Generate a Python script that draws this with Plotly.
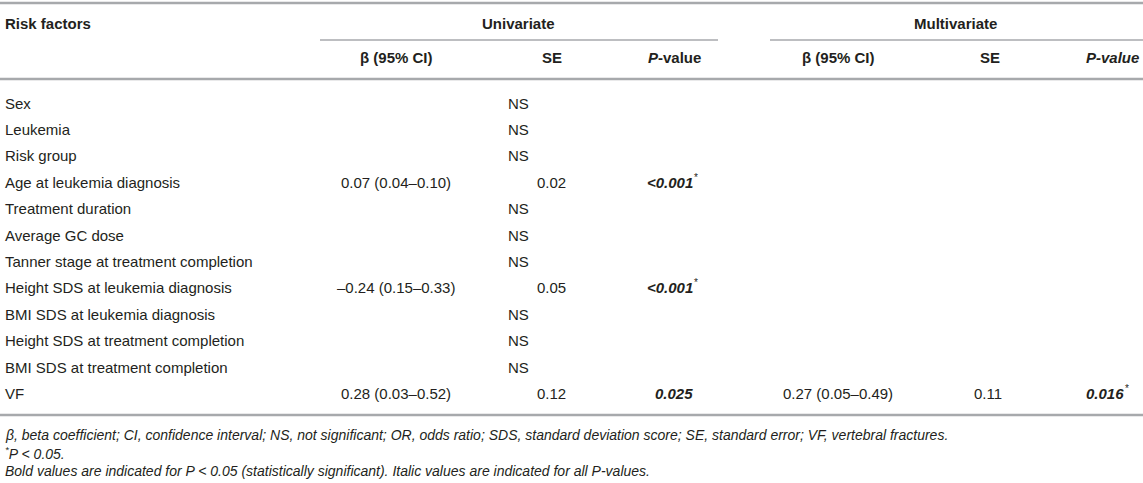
import plotly.graph_objects as go

# table content
risk_factors = ["Sex", "Leukemia", "Risk group", "Age at leukemia diagnosis", "Treatment duration",
                "Average GC dose", "Tanner stage at treatment completion",
                "Height SDS at leukemia diagnosis", "BMI SDS at leukemia diagnosis",
                "Height SDS at treatment completion", "BMI SDS at treatment completion", "VF"]
uni_beta = ["", "", "", "0.07 (0.04–0.10)", "", "", "", "–0.24 (0.15–0.33)", "", "", "", "0.28 (0.03–0.52)"]
uni_se = ["NS", "NS", "NS", "0.02", "NS", "NS", "NS", "0.05", "NS", "NS", "NS", "0.12"]
uni_p = ["", "", "", "<0.001", "", "", "", "<0.001", "", "", "", "0.025"]
uni_star = [False, False, False, True, False, False, False, True, False, False, False, False]
multi_beta = [""] * 11 + ["0.27 (0.05–0.49)"]
multi_se = [""] * 11 + ["0.11"]
multi_p = [""] * 11 + ["0.016"]
multi_star = [False] * 11 + [True]

footnotes = [
    "β, beta coefficient; CI, confidence interval; NS, not significant; OR, odds ratio; SDS, standard deviation score; "
    "SE, standard error; VF, vertebral fractures.",
    "<sup>*</sup>P &lt; 0.05.",
    "Bold values are indicated for P &lt; 0.05 (statistically significant). Italic values are indicated for all P-values.",
]

W, H = 1143, 483
FONT = "Liberation Sans, Arial, Helvetica, sans-serif"
TXT = "#231f20"
RULE = "#a7a9ac"

fig = go.Figure()


def cell(x, y, text, anchor="left", size=15, color=TXT):
    fig.add_annotation(x=x, y=y, text=text, showarrow=False, xanchor=anchor, yanchor="middle",
                       font=dict(family=FONT, size=size, color=color), xref="x", yref="y")


def rule(x0, x1, y, width=2):
    fig.add_shape(type="line", x0=x0, x1=x1, y0=y, y1=y, line=dict(color=RULE, width=width),
                  xref="x", yref="y")


def pvalue(x, y, text, star):
    if not text:
        return
    cell(x, y, "<b><i>" + text.replace("<", "&lt;") + "</i></b>", anchor="right")
    if star:
        cell(x - 3, y - 5, "*", anchor="left", size=10)


# header
rule(0, W, 3, 2.5)
cell(3, 23, "<b>Risk factors</b>")
cell(518, 23, "<b>Univariate</b>", anchor="center")
cell(955, 23, "<b>Multivariate</b>", anchor="center")
rule(320, 718, 40, 1.5)
rule(770, W, 40, 1.5)
cell(396, 57, "<b>β (95% CI)</b>", anchor="center")
cell(552, 57, "<b>SE</b>", anchor="center")
cell(703, 57, "<b><i>P</i>-value</b>", anchor="right")
cell(838, 57, "<b>β (95% CI)</b>", anchor="center")
cell(990, 57, "<b>SE</b>", anchor="center")
cell(1141, 57, "<b><i>P-value</i></b>", anchor="right")
rule(0, W, 79, 2.5)

# body rows
row0, step = 103, 26.4
for i, name in enumerate(risk_factors):
    y = row0 + i * step
    cell(3, y, name)
    if uni_beta[i]:
        cell(396, y, uni_beta[i], anchor="center")
    if uni_se[i] == "NS":
        cell(518, y, "NS", anchor="center")
    else:
        cell(551, y, uni_se[i], anchor="center")
    pvalue(695, y, uni_p[i], uni_star[i])
    if multi_beta[i]:
        cell(838, y, multi_beta[i], anchor="center")
    if multi_se[i]:
        cell(988, y, multi_se[i], anchor="center")
    pvalue(1126, y, multi_p[i], multi_star[i])

rule(0, W, 415, 2.5)

# footnotes
for j, note in enumerate(footnotes):
    cell(3, 435 + j * 18, "<i>" + note + "</i>", size=14)

fig.update_xaxes(range=[0, W], visible=False, fixedrange=True)
fig.update_yaxes(range=[H, 0], visible=False, fixedrange=True)
fig.update_layout(width=W, height=H, margin=dict(l=0, r=0, t=0, b=0),
                  plot_bgcolor="white", paper_bgcolor="white", showlegend=False)

fig.write_html("out.html", config={"displayModeBar": False},
               post_script="document.body.style.margin='0';")
